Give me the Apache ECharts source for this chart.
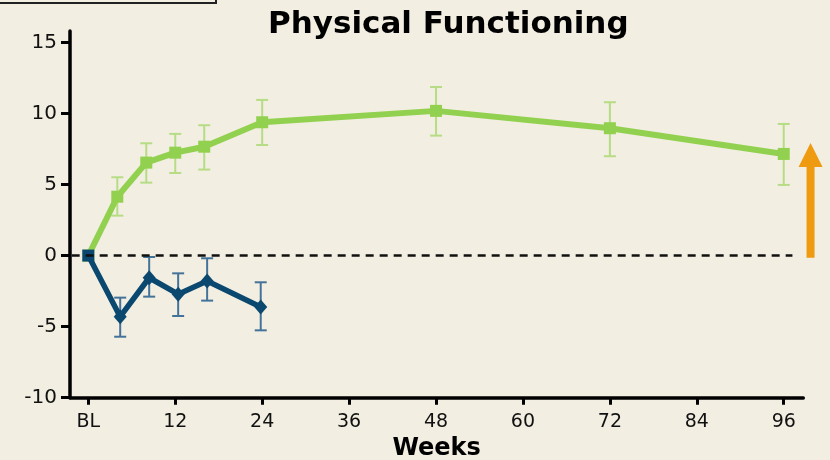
<!DOCTYPE html>
<html><head><meta charset="utf-8">
<script src="https://cdn.jsdelivr.net/npm/echarts@6/dist/echarts.min.js"></script>
<style>html,body{margin:0;padding:0;background:#F2EEE1;}#c{width:830px;height:460px;}</style>
</head><body><div id="c"></div>
<script>
// ---- data ----
const xTicks = [0, 12, 24, 36, 48, 60, 72, 84, 96];
const xTickLabels = ['BL', '12', '24', '36', '48', '60', '72', '84', '96'];
const yTicks = [-10, -5, 0, 5, 10, 15];

const greenWeeks = [0, 4, 8, 12, 16, 24, 48, 72, 96];
const greenMean  = [0, 4.14, 6.54, 7.24, 7.66, 9.38, 10.18, 8.96, 7.15];
const greenLow   = [null, 2.81, 5.13, 5.81, 6.05, 7.78, 8.44, 6.99, 4.97];
const greenHigh  = [null, 5.51, 7.90, 8.56, 9.17, 10.95, 11.86, 10.79, 9.26];

const blueWeeks = [0, 4.4, 8.4, 12.4, 16.4, 23.8];
const blueMean  = [0, -4.30, -1.56, -2.72, -1.79, -3.62];
const blueLow   = [null, -5.71, -2.89, -4.25, -3.17, -5.26];
const blueHigh  = [null, -2.96, -0.10, -1.25, -0.19, -1.88];

const zeroLineWeeks = [-2.3, 97.2];
const arrowWeek = 99.7;
const arrowRange = [-0.15, 7.92];

// ---- chart ----
const GREEN = '#92D14F', GREEN_ERR = '#B6DD86';
const BLUE = '#0B4870', BLUE_ERR = '#44739A';
const FONT = 'DejaVu Sans';

function errorSeries(weeks, low, high, color, z) {
  const data = [];
  weeks.forEach((w, i) => { if (low[i] != null) data.push([w, low[i], high[i]]); });
  return {
    type: 'custom', z: z, silent: true, animation: false,
    data: data,
    encode: { x: 0, y: [1, 2] },
    renderItem: function (params, api) {
      const x = api.value(0);
      const lo = api.coord([x, api.value(1)]);
      const hi = api.coord([x, api.value(2)]);
      const hw = 6;
      const style = { stroke: color, lineWidth: 2, fill: null };
      return {
        type: 'group', children: [
          { type: 'line', shape: { x1: lo[0], y1: lo[1], x2: hi[0], y2: hi[1] }, style: style },
          { type: 'line', shape: { x1: lo[0] - hw, y1: lo[1], x2: lo[0] + hw, y2: lo[1] }, style: style },
          { type: 'line', shape: { x1: hi[0] - hw, y1: hi[1], x2: hi[0] + hw, y2: hi[1] }, style: style }
        ]
      };
    }
  };
}

const chart = echarts.init(document.getElementById('c'), null, { renderer: 'canvas' });
chart.setOption({
  backgroundColor: '#F2EEE1',
  animation: false,
  title: {
    text: 'Physical Functioning', left: 263, top: 4,
    textStyle: { fontFamily: FONT, fontWeight: 'bold', fontSize: 31, color: '#000' }
  },
  grid: { left: 70, right: 26.7, top: 31, bottom: 62.3, containLabel: false, outerBoundsMode: 'none' },
  xAxis: {
    type: 'value', min: -2.53, max: 98.7,
    name: 'Weeks', nameLocation: 'middle', nameGap: 37,
    nameTextStyle: { fontFamily: FONT, fontWeight: 'bold', fontSize: 24, color: '#000' },
    axisLine: { show: true, onZero: false, lineStyle: { color: '#000', width: 3.5 } },
    axisTick: { show: true, customValues: xTicks, length: 7, lineStyle: { color: '#000', width: 3 } },
    axisLabel: {
      customValues: xTicks, margin: 15,
      fontFamily: FONT, fontSize: 19, color: '#111',
      formatter: v => xTickLabels[xTicks.indexOf(v)]
    },
    splitLine: { show: false }
  },
  yAxis: {
    type: 'value', min: -10, max: 15.8,
    axisLine: { show: true, onZero: false, lineStyle: { color: '#000', width: 3.5 } },
    axisTick: { show: true, customValues: yTicks, length: 9, lineStyle: { color: '#000', width: 3 } },
    axisLabel: { customValues: yTicks, margin: 13, fontFamily: FONT, fontSize: 20, color: '#111' },
    splitLine: { show: false }
  },
  series: [
    {
      type: 'line', data: [], z: 1, silent: true,
      markLine: {
        silent: true, symbol: 'none', label: { show: false },
        lineStyle: { color: '#111', type: [8, 6], width: 2.5 },
        data: [[{ coord: [zeroLineWeeks[0], 0] }, { coord: [zeroLineWeeks[1], 0] }]]
      }
    },
    errorSeries(greenWeeks, greenLow, greenHigh, GREEN_ERR, 2),
    errorSeries(blueWeeks, blueLow, blueHigh, BLUE_ERR, 2),
    {
      type: 'line', z: 3, silent: true,
      data: greenWeeks.map((w, i) => [w, greenMean[i]]),
      symbol: 'rect', symbolSize: 12, showAllSymbol: true,
      lineStyle: { color: GREEN, width: 6 },
      itemStyle: { color: GREEN }
    },
    {
      type: 'line', z: 4, silent: true,
      data: blueWeeks.map((w, i) => ({
        value: [w, blueMean[i]],
        symbol: i === 0 ? 'rect' : 'diamond',
        symbolSize: i === 0 ? 12 : [13, 15]
      })),
      showAllSymbol: true,
      lineStyle: { color: BLUE, width: 5.5 },
      itemStyle: { color: BLUE }
    }
  ]
});

const pB = chart.convertToPixel({ gridIndex: 0 }, [arrowWeek, arrowRange[0]]);
const pT = chart.convertToPixel({ gridIndex: 0 }, [arrowWeek, arrowRange[1]]);
const ax = pB[0], yb = pB[1], yt = pT[1];
chart.setOption({
  graphic: [
    { type: 'rect', shape: { x: -4, y: -20, width: 220, height: 23 },
      style: { fill: 'none', stroke: '#222', lineWidth: 2 }, silent: true },
    { type: 'polygon', silent: true,
      shape: { points: [[ax - 4, yb], [ax + 4, yb], [ax + 4, yt + 24], [ax + 12, yt + 24],
                        [ax, yt], [ax - 12, yt + 24], [ax - 4, yt + 24]] },
      style: { fill: '#EE9B11' } }
  ]
});
</script>
</body></html>
